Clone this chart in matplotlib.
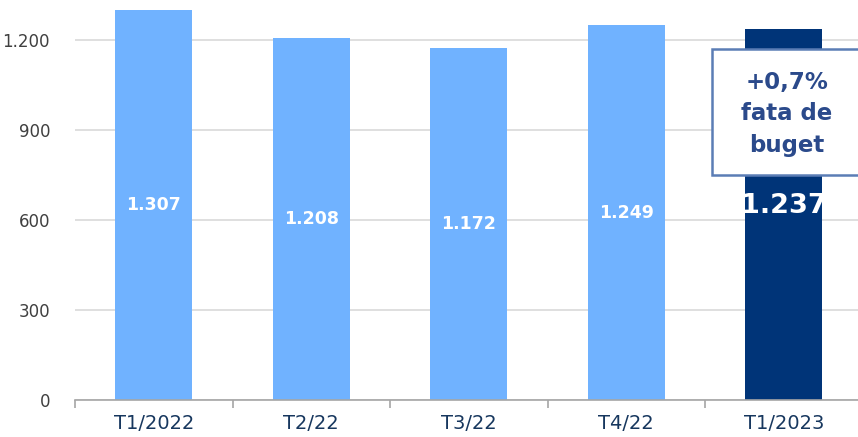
import matplotlib.pyplot as plt
from matplotlib.patches import Rectangle
from matplotlib.ticker import FuncFormatter

categories = ["T1/2022", "T2/22", "T3/22", "T4/22", "T1/2023"]
values = [1307, 1208, 1172, 1249, 1237]
bar_colors = ["#70b2ff", "#70b2ff", "#70b2ff", "#70b2ff", "#003478"]
yticks = [0, 300, 600, 900, 1200]
note = "+0,7%\nfata de\nbuget"

plt.rcParams['font.family'] = ['DejaVu Sans']

fig = plt.figure(figsize=(8.58, 4.37), dpi=100)
ax = fig.add_axes([75 / 858, 37 / 437, 787.5 / 858, 390 / 437])

x = list(range(len(categories)))
bars = ax.bar(x, values, width=0.49, color=bar_colors, zorder=2)

ax.set_ylim(0, 1300)
ax.set_xlim(-0.5, len(categories) - 0.5)
ax.set_yticks(yticks)
ax.yaxis.set_major_formatter(FuncFormatter(lambda v, p: f"{int(v):,}".replace(",", ".")))
ax.grid(axis='y', color='#d9d9d9', linewidth=1.2, zorder=0)
ax.tick_params(axis='y', length=0, pad=18, labelsize=12, labelcolor='#404040')

ax.set_xticks(x)
ax.set_xticklabels(categories)
ax.set_xticks([i + 0.5 for i in range(-1, len(categories))], minor=True)
ax.tick_params(axis='x', which='major', length=0, pad=10, labelsize=14, labelcolor='#17375e')
ax.tick_params(axis='x', which='minor', length=6, width=1.2, color='#a6a6a6')

for s in ['top', 'right', 'left']:
    ax.spines[s].set_visible(False)
ax.spines['bottom'].set_color('#a6a6a6')
ax.spines['bottom'].set_linewidth(1.2)

# value labels inside bars
for i, (b, v) in enumerate(zip(bars, values)):
    shown = min(v, 1300)
    txt = f"{v:,}".replace(",", ".")
    if i == len(values) - 1:
        t = ax.text(b.get_x() + b.get_width() / 2, 645, txt, ha='center', va='center',
                    color='white', fontsize=19.5, fontweight='bold', zorder=3)
        t.set_clip_path(b)
    else:
        ax.text(b.get_x() + b.get_width() / 2, shown / 2, txt, ha='center', va='center',
                color='white', fontsize=12.5, fontweight='bold', zorder=3)

# callout box (runs off the right edge like the original)
box = Rectangle((712 / 858, 1 - 175 / 437), 170 / 858, 126 / 437, transform=fig.transFigure,
                facecolor='white', edgecolor='#5b7db5', linewidth=1.8, zorder=5, clip_on=False)
fig.add_artist(box)
fig.text(787 / 858, 1 - 114 / 437, note, ha='center', va='center', fontsize=16.5,
         fontweight='bold', color='#2b4a8b', linespacing=1.45, zorder=6)

fig.savefig("out.png", dpi=100)
